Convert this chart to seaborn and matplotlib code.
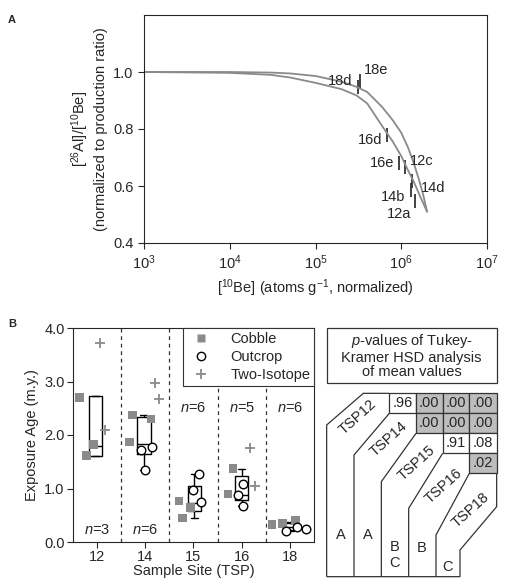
import matplotlib
matplotlib.use("Agg")
import matplotlib.pyplot as plt
import seaborn as sns
import numpy as np
import pandas as pd
from matplotlib.lines import Line2D
from matplotlib.patches import Polygon, Rectangle

sns.set_style("ticks")
plt.rcParams['font.family'] = ['Liberation Sans', 'DejaVu Sans']
plt.rcParams['mathtext.fontset'] = 'custom'
plt.rcParams['mathtext.rm'] = 'Liberation Sans'
plt.rcParams['mathtext.it'] = 'Liberation Sans:italic'

# ---------------- data: panel A ----------------
exp_be = [1e3, 1e4, 3e4, 5e4, 1e5, 2e5, 3e5, 4e5, 6e5, 8e5, 1e6, 1.2e6, 1.4e6, 1.6e6, 1.8e6, 2e6]
exp_ratio = [1.0, 1.0, 0.998, 0.995, 0.986, 0.966, 0.948, 0.93, 0.877, 0.83, 0.787, 0.735, 0.68, 0.625, 0.57, 0.51]
ero_be = [1e3, 1e4, 3e4, 5e4, 1e5, 2e5, 3e5, 4e5, 6e5, 8e5, 1e6, 1.2e6, 1.4e6, 1.6e6, 1.8e6, 2e6]
ero_ratio = [1.0, 0.997, 0.99, 0.981, 0.962, 0.94, 0.918, 0.89, 0.81, 0.755, 0.705, 0.655, 0.615, 0.575, 0.54, 0.51]
samp_names = ["18d", "18e", "16d", "16e", "12c", "14d", "14b", "12a"]
samp_be = [3.1e5, 3.3e5, 6.9e5, 9.5e5, 1.1e6, 1.32e6, 1.3e6, 1.45e6]
samp_ratio = [0.948, 0.968, 0.78, 0.68, 0.665, 0.617, 0.585, 0.547]

# ---------------- data: panel B ----------------
sites = ["12", "14", "15", "16", "18"]
cobble_site = ["12", "12", "12", "14", "14", "14", "15", "15", "15", "16", "16", "18", "18", "18"]
cobble_age = [2.7, 1.62, 1.82, 1.87, 2.37, 2.3, 0.77, 0.45, 0.65, 0.9, 1.37, 0.33, 0.35, 0.4]
outcrop_site = ["14", "14", "14", "15", "15", "15", "16", "16", "16", "18", "18", "18"]
outcrop_age = [1.72, 1.78, 1.35, 1.27, 0.98, 0.75, 0.87, 1.08, 0.67, 0.2, 0.28, 0.25]
iso_site = ["12", "12", "14", "14", "16", "16"]
iso_age = [3.72, 2.1, 2.98, 2.68, 1.75, 1.05]
box_q1 = [1.6, 1.65, 0.58, 0.78, 0.22]
box_med = [1.8, 1.83, 0.73, 0.88, 0.28]
box_q3 = [2.72, 2.33, 1.05, 1.23, 0.35]
box_lo = [1.6, 1.35, 0.45, 0.67, 0.2]
box_hi = [2.72, 2.38, 1.27, 1.37, 0.37]
n_labels = ["n=3", "n=6", "n=6", "n=5", "n=6"]

# table
tsp_names = ["TSP12", "TSP14", "TSP15", "TSP16", "TSP18"]
pvals = [[".96", ".00", ".00", ".00"],
         [None, ".00", ".00", ".00"],
         [None, None, ".91", ".08"],
         [None, None, None, ".02"]]
groups = ["A", "A", "B\nC", "B", "C"]

# jitter offsets (positions)
cob_off = [-0.36, -0.22, -0.08, -0.33, -0.27, 0.12, -0.3, -0.23, -0.06, -0.28, -0.18, -0.37, -0.15, 0.12]
out_off = [-0.08, 0.14, 0.0, 0.12, 0.0, 0.16, -0.08, 0.02, 0.02, -0.08, 0.15, 0.33]
iso_off = [0.05, 0.17, 0.2, 0.28, 0.17, 0.27]

W, H = 506, 588
fig = plt.figure(figsize=(W / 100, H / 100), dpi=100)

def ax_px(l, r, t, b):
    return fig.add_axes([l / W, 1 - b / H, (r - l) / W, (b - t) / H])

GREY = "#8a8a8a"
FS = 10.5

# ---------------- panel A ----------------
axA = ax_px(144, 487, 15, 243)
sns.lineplot(x=exp_be, y=exp_ratio, ax=axA, color=GREY, lw=1.3, sort=False, estimator=None)
sns.lineplot(x=ero_be, y=ero_ratio, ax=axA, color=GREY, lw=1.3, sort=False, estimator=None)
sns.scatterplot(x=samp_be, y=samp_ratio, ax=axA, marker="|", s=90, color="#333333", linewidth=1.3)
axA.set_xscale("log")
axA.set_xlim(1e3, 1e7)
axA.set_ylim(0.4, 1.2)
axA.set_yticks([0.4, 0.6, 0.8, 1.0])
axA.set_yticklabels(["0.4", "0.6", "0.8", "1.0"])
axA.set_xticks([1e3, 1e4, 1e5, 1e6, 1e7])
axA.set_xticklabels([r"10$^{3}$", r"10$^{4}$", r"10$^{5}$", r"10$^{6}$", r"10$^{7}$"])
axA.minorticks_off()
axA.tick_params(labelsize=FS, direction="out", length=4, width=0.8)
for s in axA.spines.values():
    s.set_linewidth(0.8)
axA.set_xlabel(r"[$^{10}$Be] (atoms g$^{-1}$, normalized)", fontsize=FS)
axA.set_ylabel("[$^{26}$Al]/[$^{10}$Be]\n(normalized to production ratio)", fontsize=FS)
lab_off = {"18d": (-4, 4, "right"), "18e": (3, 8, "left"), "16d": (-4, -4, "right"),
           "16e": (-4, 0, "right"), "12c": (4, 5, "left"), "14d": (7, -5, "left"),
           "14b": (-4, -5, "right"), "12a": (-3, -9, "right")}
for nme, xv, yv in zip(samp_names, samp_be, samp_ratio):
    dx, dy, ha = lab_off[nme]
    axA.annotate(nme, (xv, yv), xytext=(dx, dy), textcoords="offset points",
                 ha=ha, va="center", fontsize=FS)
fig.text(8 / W, 1 - 20 / H, "A", fontsize=8, fontweight="bold", va="center")

# ---------------- panel B ----------------
axB = ax_px(73, 314, 328, 542)
pos = {s: i for i, s in enumerate(sites)}
dfc = pd.DataFrame({"x": [pos[s] + o for s, o in zip(cobble_site, cob_off)], "y": cobble_age})
dfo = pd.DataFrame({"x": [pos[s] + o for s, o in zip(outcrop_site, out_off)], "y": outcrop_age})
dfi = pd.DataFrame({"x": [pos[s] + o for s, o in zip(iso_site, iso_off)], "y": iso_age})
stats = [dict(q1=a, med=b, q3=c, whislo=d, whishi=e, label=s)
         for a, b, c, d, e, s in zip(box_q1, box_med, box_q3, box_lo, box_hi, sites)]
box_pos = [-0.03, -0.03, 0.02, 0.0, 0.0]
axB.bxp(stats, positions=[i + p for i, p in enumerate(box_pos)], widths=0.28, showfliers=False,
        boxprops=dict(lw=1.0, color="black"), medianprops=dict(color="black", lw=1.0),
        whiskerprops=dict(lw=1.0), capprops=dict(lw=1.0), capwidths=0.15, manage_ticks=False)
sns.scatterplot(data=dfc, x="x", y="y", ax=axB, marker="s", s=38, color=GREY, edgecolor="none", zorder=3)
sns.scatterplot(data=dfo, x="x", y="y", ax=axB, marker="o", s=38, facecolor="white",
                edgecolor="black", linewidth=1.0, zorder=4)
sns.scatterplot(data=dfi, x="x", y="y", ax=axB, marker="+", s=50, color=GREY, linewidth=1.3, zorder=3)
for xs in [0.5, 1.5, 2.5, 3.5]:
    axB.axvline(xs, color="#333333", lw=0.9, ls=(0, (3, 3)))
axB.set_xlim(-0.5, 4.5)
axB.set_ylim(0, 4.0)
axB.set_yticks([0, 1, 2, 3, 4])
axB.set_yticklabels(["0.0", "1.0", "2.0", "3.0", "4.0"])
axB.set_xticks(range(5))
axB.set_xticklabels(sites)
axB.tick_params(labelsize=FS, direction="out", length=4, width=0.8, pad=2)
for s in axB.spines.values():
    s.set_linewidth(0.8)
axB.set_xlabel("Sample Site (TSP)", fontsize=FS, labelpad=0)
axB.set_ylabel("Exposure Age (m.y.)", fontsize=FS)
for i, lab in enumerate(n_labels):
    yy = 0.22 if i < 2 else 2.5
    axB.text(i, yy, r"$\it{n}$=" + lab[2:], ha="center", va="center", fontsize=FS)
handles = [Line2D([], [], ls="", marker="s", ms=6, color=GREY, mec="none"),
           Line2D([], [], ls="", marker="o", ms=6, mfc="white", mec="black"),
           Line2D([], [], ls="", marker="+", ms=7, color=GREY, mew=1.3)]
leg = axB.legend(handles, ["Cobble", "Outcrop", "Two-Isotope"], loc="upper right",
                 bbox_to_anchor=(1.0, 1.0), borderaxespad=0, fancybox=False, framealpha=1,
                 edgecolor="#333333", fontsize=FS, handletextpad=1.0, labelspacing=0.3,
                 borderpad=0.25)
leg.get_frame().set_linewidth(0.8)
fig.text(8 / W, 1 - 324 / H, "B", fontsize=8, fontweight="bold", va="center")

# ---------------- table ----------------
def P(zx, zy):
    return ((320 + zx / 3) / W, 1 - (300 + zy / 3) / H)

def poly(pts, **kw):
    p = Polygon([P(*q) for q in pts], closed=False, fill=False, transform=fig.transFigure,
                lw=0.9, edgecolor="#333333", **kw)
    fig.add_artist(p)

title_box = Rectangle(P(20, 250), (510 / 3) / W, (165 / 3) / H, fill=False,
                      transform=fig.transFigure, lw=0.9, edgecolor="#333333")
fig.add_artist(title_box)
fig.text(*P(275, 167), r"$\it{p}$-values of Tukey-" + "\nKramer HSD analysis\nof mean values",
         ha="center", va="center", fontsize=FS, linespacing=1.05)

colx = [208, 288, 368, 448, 530]
rowy = [280, 340, 400, 460, 520]
for r in range(4):
    for c in range(r, 4):
        v = pvals[r][c]
        shaded = v is not None and float(v) < 0.05
        rect = Rectangle(P(colx[c], rowy[r + 1]), ((colx[c + 1] - colx[c]) / 3) / W,
                         (60 / 3) / H, transform=fig.transFigure, lw=0.9, edgecolor="#333333",
                         facecolor="#bdbdbd" if shaded else "white")
        fig.add_artist(rect)
        fig.text(*P((colx[c] + colx[c + 1]) / 2, rowy[r] + 30), v, ha="center", va="center",
                 fontsize=FS)

poly([(20, 830), (20, 375), (130, 280), (208, 280)])
x0 = [102, 184, 266, 348]
yd = [465, 545, 625, 705]
for k in range(4):
    poly([(x0[k], 830), (x0[k], yd[k]), (colx[k], rowy[k + 1])])
poly([(530, 520), (530, 620), (420, 750), (420, 830), (20, 830)])

lab_pos = [(112, 352), (205, 418), (290, 490), (370, 558), (452, 630)]
for nme, (zx, zy) in zip(tsp_names, lab_pos):
    fig.text(*P(zx, zy), nme, ha="center", va="center", rotation=42, fontsize=FS)
grp_pos = [(62, 705), (145, 705), (225, 765), (305, 745), (382, 800)]
for g, (zx, zy) in zip(groups, grp_pos):
    fig.text(*P(zx, zy), g, ha="center", va="center", fontsize=FS, linespacing=1.1)

fig.savefig("out.png", dpi=100)
